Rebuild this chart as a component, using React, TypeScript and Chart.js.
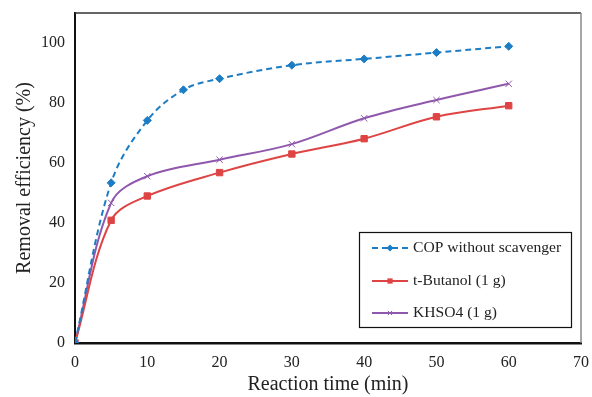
import React, { useEffect, useRef } from "react";
import { Chart, registerables } from "chart.js";

Chart.register(...registerables);

const times = [0, 5, 10, 15, 20, 30, 40, 50, 60];
const copWithout = [0, 53.4, 74.2, 84.4, 88.1, 92.6, 94.7, 96.8, 98.9];
const timesB = [0, 5, 10, 20, 30, 40, 50, 60];
const tButanol = [0, 40.9, 49, 56.8, 63, 68.1, 75.4, 79.1];
const khso4 = [0, 46.7, 55.6, 61.1, 66.3, 74.9, 81, 86.4];
const seriesNames = ["COP without scavenger", "t-Butanol (1 g)", "KHSO4 (1 g)"];
const xTicks = [0, 10, 20, 30, 40, 50, 60, 70];
const yTicks = [0, 20, 40, 60, 80, 100];

const BLUE = "rgb(28,125,196)";
const RED = "rgb(222,68,68)";
const PURPLE = "rgb(143,88,172)";
const FONT = "'Liberation Serif', 'Times New Roman', serif";

function marker(ctx: CanvasRenderingContext2D, style: string, x: number, y: number, r: number, color: string) {
  ctx.save();
  ctx.fillStyle = color;
  ctx.strokeStyle = color;
  ctx.lineWidth = 1;
  ctx.beginPath();
  if (style === "rectRot") {
    ctx.moveTo(x, y - r);
    ctx.lineTo(x + r, y);
    ctx.lineTo(x, y + r);
    ctx.lineTo(x - r, y);
    ctx.closePath();
    ctx.fill();
  } else if (style === "rect") {
    ctx.rect(x - r * 0.75, y - r * 0.75, r * 1.5, r * 1.5);
    ctx.fill();
  } else {
    const d = r * 0.6;
    ctx.moveTo(x - d, y - d);
    ctx.lineTo(x + d, y + d);
    ctx.moveTo(x + d, y - d);
    ctx.lineTo(x - d, y + d);
    ctx.stroke();
  }
  ctx.restore();
}

const frameAndLegend = {
  id: "frameAndLegend",
  afterDraw(chart: any) {
    const ctx = chart.ctx;
    const a = chart.chartArea;
    ctx.save();
    ctx.strokeStyle = "#333";
    ctx.lineWidth = 1.5;
    ctx.beginPath();
    ctx.moveTo(a.left, a.top);
    ctx.lineTo(a.right, a.top);
    ctx.stroke();
    ctx.strokeStyle = "#888";
    ctx.beginPath();
    ctx.moveTo(a.right, a.top);
    ctx.lineTo(a.right, a.bottom);
    ctx.stroke();

    const bx = 359.5, by = 232.5, bw = 212, bh = 95;
    ctx.fillStyle = "#fff";
    ctx.fillRect(bx, by, bw, bh);
    ctx.strokeStyle = "#111";
    ctx.lineWidth = 1.2;
    ctx.strokeRect(bx, by, bw, bh);
    const rows = [248, 281, 313];
    ctx.font = `15.6px ${FONT}`;
    ctx.textBaseline = "middle";
    chart.data.datasets.forEach((ds: any, i: number) => {
      const y = rows[i];
      ctx.strokeStyle = ds.borderColor;
      ctx.lineWidth = 2;
      ctx.setLineDash(ds.borderDash || []);
      ctx.beginPath();
      ctx.moveTo(372, y);
      ctx.lineTo(408, y);
      ctx.stroke();
      ctx.setLineDash([]);
      marker(ctx, ds.pointStyle, 390, y, 3.5, ds.borderColor);
      ctx.fillStyle = "#222";
      ctx.fillText(ds.label, 413, y);
    });
    ctx.restore();
  },
};

const noPad = (s: any) => {
  s.paddingLeft = 0;
  s.paddingRight = 0;
  s.paddingTop = 0;
  s.paddingBottom = 0;
};

export default function App() {
  const ref = useRef<HTMLCanvasElement | null>(null);
  useEffect(() => {
    if (!ref.current) return;
    const mk = (xs: number[], ys: number[]) => xs.map((x, i) => ({ x, y: ys[i] }));
    const common = { borderWidth: 2, pointBorderWidth: 1, tension: 0.35 };
    const chart = new Chart(ref.current, {
      type: "line",
      data: {
        datasets: [
          {
            ...common,
            label: seriesNames[0],
            data: mk(times, copWithout),
            borderColor: BLUE,
            backgroundColor: BLUE,
            pointBackgroundColor: BLUE,
            pointBorderColor: BLUE,
            borderDash: [6, 4],
            pointStyle: "rectRot",
            pointRadius: 4,
          },
          {
            ...common,
            label: seriesNames[1],
            data: mk(timesB, tButanol),
            borderColor: RED,
            backgroundColor: RED,
            pointBackgroundColor: RED,
            pointBorderColor: RED,
            pointStyle: "rect",
            pointRadius: 4.5,
          },
          {
            ...common,
            label: seriesNames[2],
            data: mk(timesB, khso4),
            borderColor: PURPLE,
            backgroundColor: PURPLE,
            pointBackgroundColor: PURPLE,
            pointBorderColor: PURPLE,
            pointStyle: "crossRot",
            pointRadius: 4.5,
          },
        ],
      },
      options: {
        animation: false,
        responsive: false,
        maintainAspectRatio: false,
        layout: { padding: { top: 13, right: 11, left: 0, bottom: 0 } },
        plugins: { legend: { display: false }, tooltip: { enabled: false } },
        scales: {
          x: {
            type: "linear",
            min: 0,
            max: 70,
            afterBuildTicks: (s: any) => {
              s.ticks = xTicks.map((v) => ({ value: v }));
            },
            afterFit: (s: any) => {
              s.height = 54;
              noPad(s);
            },
            grid: { display: false, drawTicks: true, tickLength: 5, tickColor: "#111", tickWidth: 1.2 },
            border: { display: true, color: "#111", width: 2.5 },
            ticks: { color: "#222", font: { family: FONT, size: 16 }, padding: 5, maxRotation: 0 },
            title: {
              display: true,
              text: "Reaction time (min)",
              color: "#222",
              font: { family: FONT, size: 20 },
              padding: { top: 0, bottom: 0 },
            },
          },
          y: {
            min: 0,
            max: 110,
            afterBuildTicks: (s: any) => {
              s.ticks = yTicks.map((v) => ({ value: v }));
            },
            afterFit: (s: any) => {
              s.width = 75;
              noPad(s);
            },
            grid: { display: false, drawTicks: true, tickLength: 5, tickColor: "#111", tickWidth: 1.2 },
            border: { display: true, color: "#111", width: 2 },
            ticks: { color: "#222", font: { family: FONT, size: 16 }, padding: 5 },
            title: {
              display: true,
              text: "Removal efficiency (%)",
              color: "#222",
              font: { family: FONT, size: 20 },
              padding: { top: 13, bottom: 0 },
            },
          },
        },
      },
      plugins: [frameAndLegend],
    } as any);
    return () => chart.destroy();
  }, []);
  return (
    <div style={{ position: "fixed", left: 0, top: 0, width: 592, height: 397, background: "#fff" }}>
      <canvas ref={ref} width={592} height={397} style={{ width: 592, height: 397, display: "block" }} />
    </div>
  );
}
